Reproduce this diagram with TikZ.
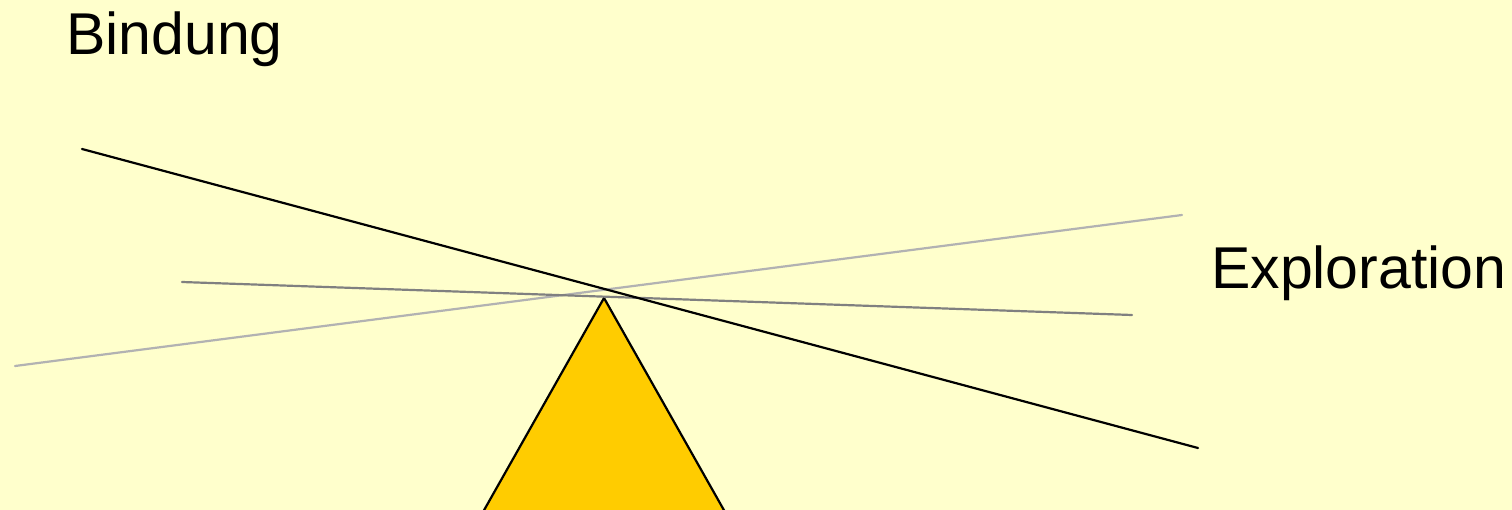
\documentclass[tikz,border=0pt]{standalone}
\usepackage{fontspec}
\setmainfont{Liberation Sans}
\begin{document}
\begin{tikzpicture}[x=1pt,y=-1pt,
  lbl/.style={anchor=base west,inner sep=0pt,font=\fontsize{59}{63}\selectfont},
  beam/.style={line width=2.2pt,line cap=round}]
\definecolor{bg}{HTML}{FFFFCC}
\definecolor{tri}{HTML}{FFCC00}
\definecolor{gdark}{HTML}{808080}
\definecolor{glight}{HTML}{B2B2B2}
\fill[bg] (0,0) rectangle (1512,510);
\useasboundingbox (0,0) rectangle (1512,510);
\coordinate (a1) at (82,149); \coordinate (a2) at (1198,448);
\coordinate (b1) at (182,282); \coordinate (b2) at (1132,315);
\coordinate (c1) at (15,366); \coordinate (c2) at (1182,215);
\coordinate (t1) at (604,298); \coordinate (t2) at (725,512); \coordinate (t3) at (483,512);
\filldraw[fill=tri,draw=black,line width=2.2pt,line join=miter] (t1) -- (t2) -- (t3) -- cycle;
\draw[beam,glight] (c1) -- (c2);
\draw[beam,gdark] (b1) -- (b2);
\draw[beam,black] (a1) -- (a2);
\node[lbl] (bindung) at (66,55) {Bindung};
\node[lbl] (exploration) at (1211,289) {Exploration};
\end{tikzpicture}
\end{document}
